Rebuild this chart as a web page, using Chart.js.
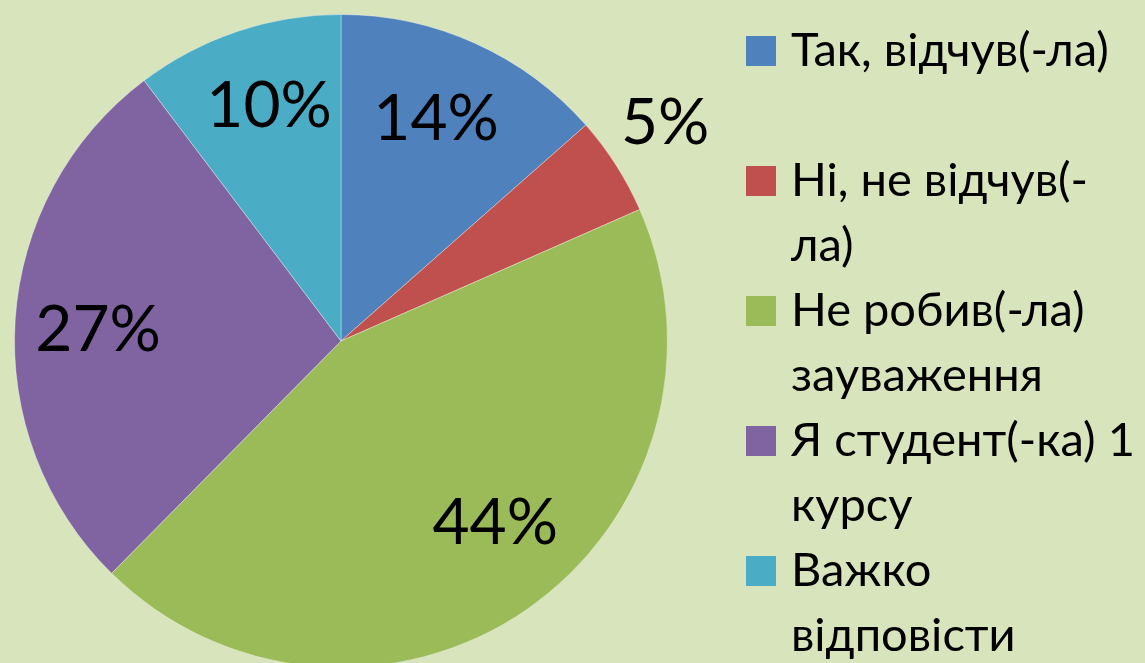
<!DOCTYPE html>
<html>
<head>
<meta charset="utf-8">
<script src="https://cdn.jsdelivr.net/npm/chart.js@4/dist/chart.umd.min.js"></script>
<style>
  html, body { margin: 0; padding: 0; background: #D8E4BC; overflow: hidden; }
  #wrap { width: 1145px; height: 663px; overflow: hidden; position: relative; }
  canvas { display: block; }
</style>
</head>
<body>
<div id="wrap"><canvas id="c" width="1145" height="680"></canvas></div>
<script>
// ---- data ----
const categories = [
  "Так, відчув(-ла)",
  "Ні, не відчув(-ла)",
  "Не робив(-ла) зауваження",
  "Я студент(-ка) 1 курсу",
  "Важко відповісти"
];
const legendLines = [
  ["Так, відчув(-ла)"],
  ["Ні, не відчув(-", "ла)"],
  ["Не робив(-ла)", "зауваження"],
  ["Я студент(-ка) 1", "курсу"],
  ["Важко", "відповісти"]
];
const shares = [13.5, 4.9, 44.0, 27.3, 10.3];
const colors = ["#4F81BD", "#C0504D", "#9BBB59", "#8064A2", "#4BACC6"];

// label placement (radial fraction of outer radius, angle tweak in degrees)
const labelRadial = [0.745, 1.2, 0.725, 0.745, 0.76];
const labelAngleTweak = [-1.3, -1.6, -6.1, -0.8, 1.7];

const FONT = "Lato, 'Open Sans', 'DejaVu Sans', sans-serif";

const labelPlugin = {
  id: 'sliceLabels',
  afterDatasetsDraw(chart) {
    const ctx = chart.ctx;
    const meta = chart.getDatasetMeta(0);
    ctx.save();
    ctx.fillStyle = '#000';
    ctx.font = `64px ${FONT}`;
    ctx.textAlign = 'center';
    ctx.textBaseline = 'alphabetic';
    meta.data.forEach((arc, i) => {
      const p = arc.getProps(['x', 'y', 'startAngle', 'endAngle', 'outerRadius'], true);
      const mid = (p.startAngle + p.endAngle) / 2 + labelAngleTweak[i] * Math.PI / 180;
      const r = p.outerRadius * labelRadial[i];
      const x = p.x + Math.cos(mid) * r;
      const y = p.y + Math.sin(mid) * r;
      ctx.fillText(Math.round(shares[i]) + '%', x, y + 23);
    });
    ctx.restore();
  }
};

const legendPlugin = {
  id: 'sideLegend',
  afterDraw(chart) {
    const ctx = chart.ctx;
    ctx.save();
    ctx.font = `47px ${FONT}`;
    ctx.textBaseline = 'alphabetic';
    ctx.textAlign = 'left';
    const slot = 130, line = 65, firstBase = 66;
    legendLines.forEach((lines, i) => {
      const base = firstBase + i * slot;
      ctx.fillStyle = colors[i];
      ctx.fillRect(746, base - 30, 30, 30);
      ctx.fillStyle = '#000';
      lines.forEach((t, j) => ctx.fillText(t, 791, base + j * line));
    });
    ctx.restore();
  }
};

new Chart(document.getElementById('c'), {
  type: 'pie',
  data: {
    labels: categories,
    datasets: [{
      data: shares,
      backgroundColor: colors,
      borderColor: 'rgba(255,255,255,0.35)',
      borderWidth: 1
    }]
  },
  options: {
    responsive: false,
    devicePixelRatio: 1,
    animation: false,
    layout: { padding: { left: 14, top: 14, right: 477, bottom: 12 } },
    plugins: { legend: { display: false }, tooltip: { enabled: false } }
  },
  plugins: [labelPlugin, legendPlugin]
});
</script>
</body>
</html>
